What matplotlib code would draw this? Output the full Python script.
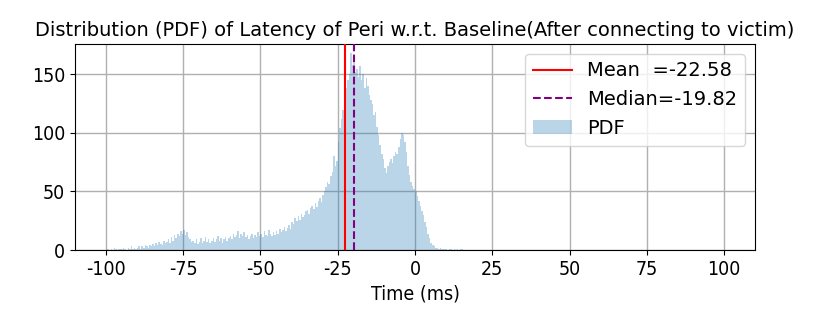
import numpy as np
import matplotlib
matplotlib.use("Agg")
import matplotlib.pyplot as plt

plt.rcParams['font.family'] = ['DejaVu Sans']
plt.rcParams['axes.unicode_minus'] = False

# Histogram bins: 0.5 ms wide, starting at -100 ms
bin_start = -100.0
bin_width = 0.5
counts = [
    0, 1, 0, 1, 0, 2, 1, 0, 1, 1,          # -100 .. -95
    1, 2, 1, 0, 2, 1, 3, 1, 2, 1,          # -95 .. -90
    2, 3, 1, 3, 2, 4, 3, 2, 4, 3,          # -90 .. -85
    5, 3, 6, 4, 7, 5, 4, 8, 6, 7,          # -85 .. -80
    9, 6, 11, 8, 13, 10, 14, 12, 16, 14,   # -80 .. -75
    17, 13, 15, 11, 9, 7, 8, 6, 9, 5,      # -75 .. -70
    7, 10, 6, 8, 11, 7, 9, 6, 8, 10,       # -70 .. -65
    7, 9, 12, 8, 10, 6, 9, 11, 8, 10,      # -65 .. -60
    12, 9, 14, 11, 13, 16, 10, 14, 12, 15, # -60 .. -55
    11, 13, 9, 12, 14, 10, 13, 11, 15, 12, # -55 .. -50
    14, 11, 16, 13, 12, 17, 14, 12, 15, 13,# -50 .. -45
    16, 14, 18, 15, 17, 20, 16, 19, 21, 18,# -45 .. -40
    24, 22, 27, 25, 29, 26, 31, 28, 30, 33,# -40 .. -35
    34, 31, 36, 38, 35, 40, 37, 42, 44, 41,# -35 .. -30
    47, 50, 54, 58, 56, 63, 67, 80, 72, 76,# -30 .. -25
    92, 104, 112, 120, 128, 138, 145, 150, 168, 158,  # -25 .. -20
    160, 152, 155, 148, 157, 145, 150, 138, 147, 140, # -20 .. -15
    132, 128, 125, 115, 118, 105, 98, 90, 82, 78,     # -15 .. -10
    70, 66, 72, 75, 78, 74, 80, 84, 82, 88,           # -10 .. -5
    95, 100, 98, 92, 84, 72, 64, 58, 55, 52,          # -5 .. 0
    50, 46, 42, 38, 33, 30, 24, 20, 14, 10,           # 0 .. 5
    6, 4, 3, 2, 2, 1, 2, 1, 1, 1,                     # 5 .. 10
    1, 0, 1, 1, 0, 1, 0, 1, 0, 1,                     # 10 .. 15
    1, 0,                                             # 15 .. 16
]
mean_val = -22.58
median_val = -19.82

title = "Distribution (PDF) of Latency of Peri w.r.t. Baseline(After connecting to victim)"
xlabel = "Time (ms)"
xticks = [-100, -75, -50, -25, 0, 25, 50, 75, 100]
yticks = [0, 50, 100, 150]

counts = np.array(counts, dtype=float)
edges = bin_start + bin_width * np.arange(len(counts) + 1)
centers = (edges[:-1] + edges[1:]) / 2

fig = plt.figure(figsize=(8.30, 3.23), dpi=100)
ax = fig.add_axes([0.0904, 0.226, 0.8192, 0.6378])

ax.hist(centers, bins=edges, weights=counts, color='#1f77b4', alpha=0.3,
        label='PDF', zorder=2)
ax.axvline(mean_val, color='red', lw=1.5, label=f'Mean  ={mean_val}', zorder=3)
ax.axvline(median_val, color='purple', lw=1.5, ls='--',
           label=f'Median={median_val}', zorder=3)

ax.set_xlim(-110, 110)
ax.set_ylim(0, 176)
ax.set_xticks(xticks)
ax.set_yticks(yticks)
ax.grid(True, color='#b0b0b0', lw=1.0, zorder=0)
ax.set_axisbelow(True)
ax.tick_params(labelsize=14)
for lab in ax.get_xticklabels() + ax.get_yticklabels():
    lab.set_fontstretch('condensed')
ax.set_xlabel(xlabel, fontsize=14, fontstretch='condensed')
ax.set_title(title, fontsize=14)
handles, labels = ax.get_legend_handles_labels()
order = [labels.index(f'Mean  ={mean_val}'), labels.index(f'Median={median_val}'), labels.index('PDF')]
ax.legend([handles[i] for i in order], [labels[i] for i in order],
          loc='upper right', fontsize=14)

fig.savefig('out.png', dpi=100)
